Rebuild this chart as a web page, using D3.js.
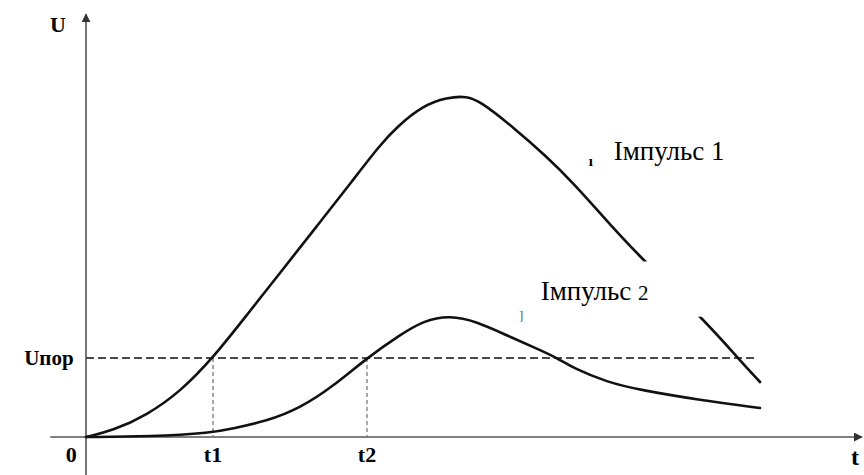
<!DOCTYPE html>
<html>
<head>
<meta charset="utf-8">
<script src="https://cdn.jsdelivr.net/npm/d3@7"></script>
<style>
  body { margin: 0; background: #fff; }
  svg { display: block; }
  text { font-family: "Liberation Serif", "DejaVu Serif", "Noto Serif", "Nimbus Roman", "FreeSerif", "Times New Roman", Times, serif; }
</style>
</head>
<body>
<div id="wrapper"></div>
<script>
// pulse 1 (big one)
const pulse1T = [0, 3.48, 7.86, 12.11, 16.37, 20.9, 25.0, 29.7, 34.41, 37.89, 40.08, 43.43, 46.52, 49.1, 50.77, 55.03, 59.41, 62.76, 66.24, 70.49, 80.03, 83.89, 86.86];
const pulse1U = [0, 1.5, 5.18, 10.6, 18.6, 29.1, 38.6, 49.5, 60.47, 68.71, 73.0, 78.0, 79.9, 80.2, 79.0, 72.94, 65.9, 59.8, 52.7, 44.0, 26.82, 18.82, 12.94];
// pulse 2 (small one)
const pulse2T = [0, 8.25, 16.37, 18.56, 23.3, 27.6, 31.83, 36.21, 40.46, 43.5, 46.9, 50.3, 54.25, 58.5, 60.7, 62.76, 67.14, 71.39, 79.12, 86.86];
const pulse2U = [0, 0.1, 1.0, 1.9, 3.7, 6.8, 11.9, 18.6, 24.0, 27.4, 28.6, 27.2, 23.9, 20.47, 18.6, 16.24, 12.9, 11.06, 8.7, 6.82];

const threshold = 18.6;   // Uпор
const thresholdEnd = 86.3;
const tMarks = [{name: "t1", t: 16.37}, {name: "t2", t: 36.21}];

const width = 864, height = 475;

const x = d3.scaleLinear().domain([0, 100]).range([86, 862]);
const y = d3.scaleLinear().domain([0, 100]).range([437, 12]);

const svg = d3.select("#wrapper").append("svg")
    .attr("width", width)
    .attr("height", height);

const defs = svg.append("defs");
defs.append("marker")
    .attr("id", "arrow")
    .attr("viewBox", "0 0 10 10")
    .attr("refX", 9).attr("refY", 5)
    .attr("markerWidth", 9).attr("markerHeight", 9)
    .attr("markerUnits", "userSpaceOnUse")
    .attr("orient", "auto")
    .append("path")
    .attr("d", "M0,0 L10,5 L0,10 z")
    .attr("fill", "#333");

// axes
svg.append("line")
    .attr("x1", x(-4.6)).attr("x2", x(100))
    .attr("y1", y(0)).attr("y2", y(0))
    .attr("stroke", "#555").attr("stroke-width", 1.6)
    .attr("marker-end", "url(#arrow)");
svg.append("line")
    .attr("x1", x(0)).attr("x2", x(0))
    .attr("y1", y(-9)).attr("y2", y(99.5))
    .attr("stroke", "#555").attr("stroke-width", 1.6)
    .attr("marker-end", "url(#arrow)");

// threshold + drop lines
svg.append("line")
    .attr("x1", x(0)).attr("x2", x(thresholdEnd))
    .attr("y1", y(threshold)).attr("y2", y(threshold))
    .attr("stroke", "#4a4a4a").attr("stroke-width", 2)
    .attr("stroke-dasharray", "8,4");
svg.selectAll(".drop").data(tMarks).join("line")
    .attr("class", "drop")
    .attr("x1", d => x(d.t)).attr("x2", d => x(d.t))
    .attr("y1", y(threshold)).attr("y2", y(0))
    .attr("stroke", "#777").attr("stroke-width", 1.3)
    .attr("stroke-dasharray", "4,3");

// smooth spline through the read-off points
const line = d3.line()
    .x(d => x(d[0]))
    .y(d => y(d[1]))
    .curve(d3.curveBasis);

const p1 = pulse1T.map((t, i) => [t, pulse1U[i]]);
const p2 = pulse2T.map((t, i) => [t, pulse2U[i]]);

[p1, p2].forEach(p => {
    svg.append("path")
        .attr("d", line(p))
        .attr("fill", "none")
        .attr("stroke", "#111")
        .attr("stroke-width", 2.6)
        .attr("stroke-linecap", "round");
});

// white box under label 2 (hides part of pulse 1)
svg.append("rect")
    .attr("x", x(56.5)).attr("y", y(41.3))
    .attr("width", x(80.2) - x(56.5))
    .attr("height", y(28.3) - y(41.3))
    .attr("fill", "#fff");

// axis labels
svg.append("text").attr("x", x(-2.6)).attr("y", y(95.3))
    .attr("text-anchor", "end")
    .attr("font-weight", "bold").attr("font-size", 22)
    .text("U");
svg.append("text").attr("x", x(-1.6)).attr("y", y(threshold) + 7)
    .attr("text-anchor", "end")
    .attr("font-weight", "bold").attr("font-size", 21)
    .text("Uпор");
svg.append("text").attr("x", x(-1.2)).attr("y", y(0) + 25)
    .attr("text-anchor", "end")
    .attr("font-weight", "bold").attr("font-size", 22)
    .text("0");
svg.append("text").attr("x", x(99.6)).attr("y", y(0) + 28)
    .attr("text-anchor", "end")
    .attr("font-weight", "bold").attr("font-size", 24)
    .text("t");
svg.selectAll(".tlab").data(tMarks).join("text")
    .attr("class", "tlab")
    .attr("x", d => x(d.t)).attr("y", y(0) + 25)
    .attr("text-anchor", "middle")
    .attr("font-weight", "bold").attr("font-size", 22)
    .text(d => d.name);

// series labels
svg.append("text").attr("x", x(68.0)).attr("y", y(65.2))
    .attr("font-size", 27)
    .text("Імпульс 1");
svg.append("text").attr("x", x(58.6)).attr("y", y(32.2))
    .attr("font-size", 27)
    .text("Імпульс ")
    .append("tspan").attr("font-size", 21).text("2");

// small stray marks from the scan
svg.append("text").attr("x", x(64.8)).attr("y", y(63.8))
    .attr("font-weight", "bold").attr("font-size", 15)
    .text("ı");
svg.append("text").attr("x", x(55.8)).attr("y", y(27.6))
    .attr("font-size", 13).attr("fill", "#555")
    .text("]");
</script>
</body>
</html>
